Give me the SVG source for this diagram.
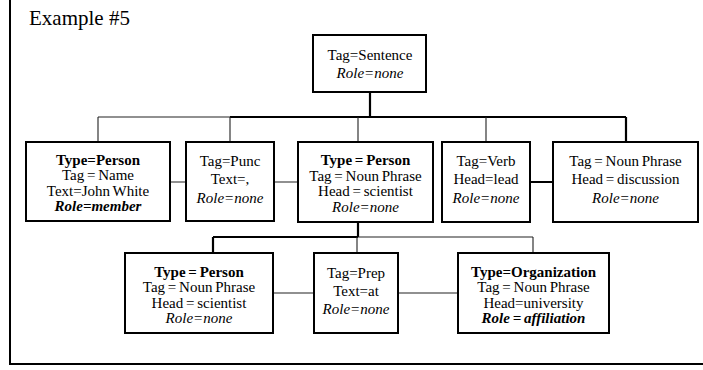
<svg xmlns="http://www.w3.org/2000/svg" width="703" height="370" viewBox="0 0 703 370">
  <style>
    .box { fill: #fff; stroke: #000; stroke-width: 2; }
    .frame { fill: none; stroke: #000; stroke-width: 2; }
    .thick { fill: none; stroke: #000; stroke-width: 2.2; }
    .thin { fill: none; stroke: #222; stroke-width: 1.1; }
    text { font-family: "Liberation Serif", "Times New Roman", "DejaVu Serif", serif; font-size: 15px; fill: #000; text-anchor: middle; word-spacing: -1px; }
    .title { font-size: 21px; text-anchor: start; word-spacing: 0; }
    .b { font-weight: bold; }
    .i { font-style: italic; }
    .bi { font-weight: bold; font-style: italic; }
  </style>

  <rect width="703" height="370" fill="#fff"/>
  <!-- outer frame (left and bottom edges) -->
  <path class="frame" d="M10 0 V364 H703"/>
  <text class="title" x="29" y="25">Example #5</text>

  <g id="connectors">
    <path class="thick" d="M370 92 V117 M230 117 H626 M626 117 V142 M358 222 V237 M213 237 H358 M213 237 V253 M530 182 H553"/>
    <path class="thin" d="M98 117 H230 M98 117 V142 M230 117 V142 M358 117 V142 M486 117 V142 M170 182 H186 M274 182 H298 M358 237 H533 M357 237 V253 M533 237 V253 M273 293 H314 M398 293 H458"/>
  </g>

  <g id="sentence">
    <rect class="box" x="313" y="35" width="113" height="57"/>
    <text x="370" y="60">Tag=Sentence</text>
    <text class="i" x="370" y="78">Role=none</text>
  </g>

  <g id="john-white">
    <rect class="box" x="26" y="142" width="144" height="79"/>
    <text class="b" x="98" y="164.5">Type=Person</text>
    <text x="98" y="180">Tag = Name</text>
    <text x="98" y="195.5">Text=John White</text>
    <text class="bi" x="98" y="211">Role=member</text>
  </g>

  <g id="comma">
    <rect class="box" x="186" y="142" width="88" height="79"/>
    <text x="230" y="166">Tag=Punc</text>
    <text x="230" y="184">Text=,</text>
    <text class="i" x="230" y="203">Role=none</text>
  </g>

  <g id="scientist-np">
    <rect class="box" x="298" y="142" width="135" height="80"/>
    <text class="b" x="365.5" y="165">Type = Person</text>
    <text x="365.5" y="180.5">Tag = Noun Phrase</text>
    <text x="365.5" y="196">Head = scientist</text>
    <text class="i" x="365.5" y="211.5">Role=none</text>
  </g>

  <g id="verb">
    <rect class="box" x="442" y="142" width="88" height="80"/>
    <text x="486" y="166">Tag=Verb</text>
    <text x="486" y="184">Head=lead</text>
    <text class="i" x="486" y="203">Role=none</text>
  </g>

  <g id="discussion">
    <rect class="box" x="553" y="142" width="145" height="80"/>
    <text x="625.5" y="166">Tag = Noun Phrase</text>
    <text x="625.5" y="184">Head = discussion</text>
    <text class="i" x="625.5" y="203">Role=none</text>
  </g>

  <g id="scientist">
    <rect class="box" x="125" y="253" width="148" height="80"/>
    <text class="b" x="199" y="276.5">Type = Person</text>
    <text x="199" y="292">Tag = Noun Phrase</text>
    <text x="199" y="307.5">Head = scientist</text>
    <text class="i" x="199" y="323">Role=none</text>
  </g>

  <g id="prep">
    <rect class="box" x="314" y="253" width="84" height="80"/>
    <text x="356" y="278">Tag=Prep</text>
    <text x="356" y="296">Text=at</text>
    <text class="i" x="356" y="314">Role=none</text>
  </g>

  <g id="university">
    <rect class="box" x="458" y="253" width="151" height="80"/>
    <text class="b" x="533.5" y="276.5">Type=Organization</text>
    <text x="533.5" y="292">Tag = Noun Phrase</text>
    <text x="533.5" y="307.5">Head=university</text>
    <text class="bi" x="533.5" y="323">Role = affiliation</text>
  </g>
</svg>
